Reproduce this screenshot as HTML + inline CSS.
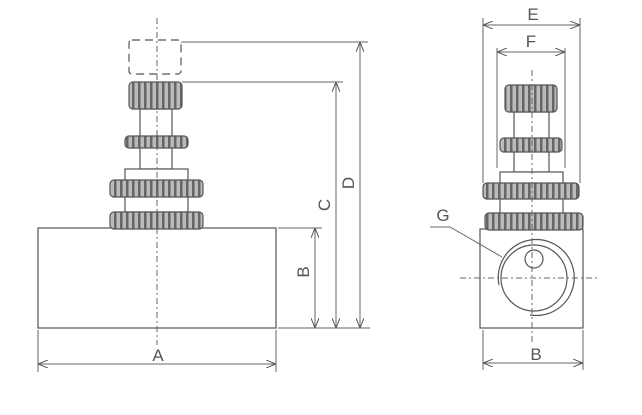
<!DOCTYPE html>
<html><head><style>body{margin:0;background:#fff}svg{display:block}text{font-family:"Liberation Sans",sans-serif;font-size:17px;fill:#555}</style></head><body>
<svg width="642" height="415" viewBox="0 0 642 415" xmlns="http://www.w3.org/2000/svg">
<defs>
<pattern id="k" width="6" height="10" patternUnits="userSpaceOnUse"><rect width="6" height="10" fill="#bbb"/><rect width="2.5" height="10" fill="#666"/></pattern>
<marker id="a" markerWidth="10" markerHeight="8" refX="9" refY="4" orient="auto-start-reverse" markerUnits="userSpaceOnUse"><path d="M0,0 L10,4 L0,8" fill="none" stroke="#555" stroke-width="1"/></marker>
</defs>
<g stroke="#555" stroke-width="1.2" fill="#fff">
<!-- left view -->
<rect x="38" y="228" width="238" height="100"/>
<rect x="129" y="40" width="52" height="34" rx="3" fill="none" stroke-dasharray="8,5"/>
<rect x="140" y="109" width="32" height="60"/>
<rect x="129" y="82" width="53" height="27" rx="4" fill="url(#k)"/>
<rect x="125" y="136" width="63" height="12" rx="4" fill="url(#k)"/>
<rect x="125" y="169" width="63" height="13"/>
<rect x="125" y="196" width="63" height="16"/>
<rect x="110" y="180" width="93" height="17" rx="4" fill="url(#k)"/>
<rect x="110" y="212" width="93" height="17" rx="4" fill="url(#k)"/>
<!-- right view -->
<rect x="480" y="229" width="103" height="99"/>
<rect x="514" y="112" width="35" height="60"/>
<rect x="505" y="85" width="52" height="27" rx="4" fill="url(#k)"/>
<rect x="500" y="138" width="62" height="14" rx="4" fill="url(#k)"/>
<rect x="500" y="172" width="63" height="12"/>
<rect x="500" y="198" width="63" height="16"/>
<rect x="483" y="183" width="96" height="16" rx="4" fill="url(#k)"/>
<rect x="485" y="213" width="98" height="17" rx="4" fill="url(#k)"/>
<circle cx="534" cy="278" r="33"/>
<path d="M499,285 A38,38 0 1 1 530,315" fill="none"/>
<circle cx="534" cy="259" r="9"/>
</g>
<g stroke="#666" stroke-width="1" fill="none">
<line x1="157" y1="18" x2="157" y2="345" stroke-dasharray="6,3,2,3"/>
<line x1="532" y1="70" x2="532" y2="345" stroke-dasharray="6,3,2,3"/>
<line x1="460" y1="278" x2="598" y2="278" stroke-dasharray="6,3,2,3"/>
<line x1="181" y1="42" x2="368" y2="42"/>
<line x1="182" y1="82" x2="343" y2="82"/>
<line x1="278" y1="228" x2="322" y2="228"/>
<line x1="278" y1="328" x2="370" y2="328"/>
<line x1="360" y1="43" x2="360" y2="327" marker-start="url(#a)" marker-end="url(#a)"/>
<line x1="336" y1="83" x2="336" y2="327" marker-start="url(#a)" marker-end="url(#a)"/>
<line x1="315" y1="229" x2="315" y2="327" marker-start="url(#a)" marker-end="url(#a)"/>
<line x1="38" y1="330" x2="38" y2="372"/><line x1="276" y1="330" x2="276" y2="372"/>
<line x1="39" y1="364" x2="275" y2="364" marker-start="url(#a)" marker-end="url(#a)"/>
<line x1="483" y1="18" x2="483" y2="183"/><line x1="580" y1="18" x2="580" y2="183"/>
<line x1="484" y1="25" x2="579" y2="25" marker-start="url(#a)" marker-end="url(#a)"/>
<line x1="497" y1="48" x2="497" y2="168"/><line x1="565" y1="48" x2="565" y2="168"/>
<line x1="498" y1="52" x2="564" y2="52" marker-start="url(#a)" marker-end="url(#a)"/>
<line x1="483" y1="330" x2="483" y2="370"/><line x1="583" y1="330" x2="583" y2="370"/>
<line x1="484" y1="363" x2="582" y2="363" marker-start="url(#a)" marker-end="url(#a)"/>
<polyline points="430,227 450,227 502,257"/>
</g>
<text x="158" y="361" text-anchor="middle">A</text>
<text transform="translate(309,272) rotate(-90)" text-anchor="middle">B</text>
<text transform="translate(330,205) rotate(-90)" text-anchor="middle">C</text>
<text transform="translate(354,183) rotate(-90)" text-anchor="middle">D</text>
<text x="533" y="20" text-anchor="middle">E</text>
<text x="531" y="47" text-anchor="middle">F</text>
<text x="443" y="221" text-anchor="middle">G</text>
<text x="536" y="360" text-anchor="middle">B</text>
</svg>
</body></html>
